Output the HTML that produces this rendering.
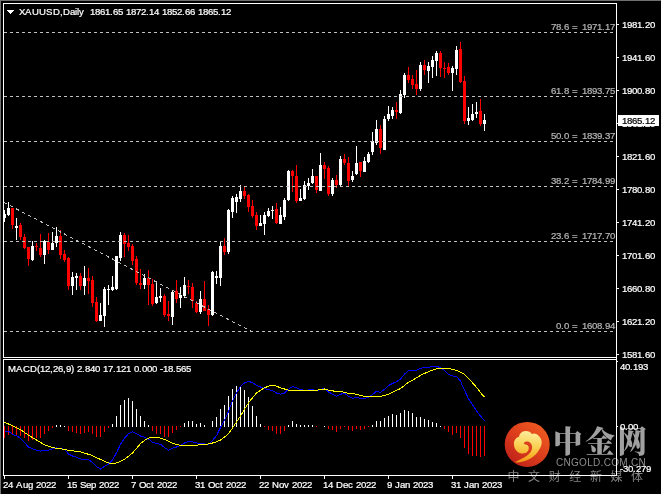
<!DOCTYPE html>
<html lang="en"><head><meta charset="utf-8"><title>XAUUSD Daily</title>
<style>
html,body{margin:0;padding:0;background:#000;}
body{width:661px;height:494px;overflow:hidden;}
svg{display:block;}
text{font-family:"Liberation Sans","Noto Sans CJK SC",sans-serif;font-size:9.6px;fill:#fff;stroke:#fff;stroke-width:0.22px;}
.fib{fill:#b4b4b4;stroke:#b4b4b4;}
.cjk{font-family:"Liberation Serif","Noto Serif CJK SC",serif;font-weight:900;}
.cjk2{font-family:"Liberation Sans","Noto Sans CJK SC",sans-serif;}
</style></head><body>
<svg width="661" height="494" viewBox="0 0 661 494">
<rect x="0" y="0" width="661" height="494" fill="#000"/>
<defs>
<linearGradient id="lg1" x1="0.85" y1="0.1" x2="0.15" y2="0.9"><stop offset="0" stop-color="#ee5a20"/><stop offset="0.5" stop-color="#dc3e1c"/><stop offset="1" stop-color="#c0221a"/></linearGradient>
<linearGradient id="lg2" x1="0.5" y1="0" x2="0.4" y2="1"><stop offset="0" stop-color="#fdee9e"/><stop offset="0.45" stop-color="#fad257"/><stop offset="0.75" stop-color="#f7b52c"/><stop offset="1" stop-color="#f39416"/></linearGradient>
</defs>
<g id="wm">
<circle cx="527.2" cy="444.4" r="22.5" fill="url(#lg1)"/>
<g transform="translate(496,414) scale(0.1215)">
<path fill="url(#lg2)" d="M155 398 C235 402 318 362 356 292 C380 262 388 215 352 182 C340 160 310 155 295 165 C280 135 225 128 200 160 C192 172 190 180 190 188 C160 195 145 225 148 250 C150 300 190 332 235 324 C258 318 272 298 270 278 C268 260 254 250 240 252 L228 240 C250 215 292 228 297 268 C300 312 262 345 215 366 C195 376 170 388 155 398 Z"/>
</g>
<text class="cjk" x="553" y="452" style="font-size:29.5px;fill:#a0a0a0;stroke:none;letter-spacing:2.8px">中金网</text>
<text x="556" y="466" style="font-size:10px;fill:#8c8c8c;stroke:none;letter-spacing:0.3px">CNGOLD.COM.CN</text>
<text class="cjk2" x="507.5" y="480.5" style="font-size:12px;fill:#858585;stroke:none;letter-spacing:8.6px">中文财经新媒体</text>
</g>
<g shape-rendering="crispEdges">
<rect x="0" y="0" width="661" height="1" fill="#707070"/>
<rect x="0" y="0" width="1" height="494" fill="#707070"/>
<g fill="#fff">
<rect x="3" y="3" width="614" height="1"/>
<rect x="3" y="3" width="1" height="355"/>
<rect x="3" y="357" width="614" height="1"/>
<rect x="3" y="359" width="614" height="1"/>
<rect x="3" y="359" width="1" height="117"/>
<rect x="3" y="475" width="614" height="1"/>
<rect x="616" y="3" width="1" height="473"/>
<rect x="617" y="24" width="2" height="1"/>
<rect x="617" y="57" width="2" height="1"/>
<rect x="617" y="90" width="2" height="1"/>
<rect x="617" y="123" width="2" height="1"/>
<rect x="617" y="156" width="2" height="1"/>
<rect x="617" y="189" width="2" height="1"/>
<rect x="617" y="222" width="2" height="1"/>
<rect x="617" y="255" width="2" height="1"/>
<rect x="617" y="288" width="2" height="1"/>
<rect x="617" y="321" width="2" height="1"/>
<rect x="617" y="354" width="2" height="1"/>
<rect x="617" y="361" width="1" height="1"/>
<rect x="617" y="426" width="1" height="1"/>
<rect x="4" y="476" width="1" height="3"/>
<rect x="68" y="476" width="1" height="3"/>
<rect x="132" y="476" width="1" height="3"/>
<rect x="196" y="476" width="1" height="3"/>
<rect x="260" y="476" width="1" height="3"/>
<rect x="324" y="476" width="1" height="3"/>
<rect x="388" y="476" width="1" height="3"/>
<rect x="452" y="476" width="1" height="3"/>
</g>
</g>
<g shape-rendering="crispEdges">
<rect x="4" y="210" width="1" height="12" fill="#ffffff"/>
<rect x="4" y="214" width="2" height="4" fill="#ffffff"/>
<rect x="8" y="202" width="1" height="14" fill="#ffffff"/>
<rect x="7" y="208" width="3" height="7" fill="#ffffff"/>
<rect x="12" y="208" width="1" height="21" fill="#ff0000"/>
<rect x="11" y="208" width="3" height="17" fill="#ff0000"/>
<rect x="16" y="218" width="1" height="22" fill="#ffffff"/>
<rect x="15" y="226" width="3" height="2" fill="#ffffff"/>
<rect x="20" y="223" width="1" height="17" fill="#ff0000"/>
<rect x="19" y="225" width="3" height="12" fill="#ff0000"/>
<rect x="24" y="234" width="1" height="15" fill="#ff0000"/>
<rect x="23" y="237" width="3" height="11" fill="#ff0000"/>
<rect x="28" y="247" width="1" height="19" fill="#ff0000"/>
<rect x="27" y="247" width="3" height="12" fill="#ff0000"/>
<rect x="32" y="241" width="1" height="20" fill="#ffffff"/>
<rect x="31" y="246" width="3" height="14" fill="#ffffff"/>
<rect x="36" y="243" width="1" height="8" fill="#ff0000"/>
<rect x="35" y="246" width="3" height="1" fill="#ff0000"/>
<rect x="40" y="234" width="1" height="23" fill="#ff0000"/>
<rect x="39" y="248" width="3" height="7" fill="#ff0000"/>
<rect x="44" y="240" width="1" height="24" fill="#ffffff"/>
<rect x="43" y="241" width="3" height="14" fill="#ffffff"/>
<rect x="48" y="233" width="1" height="21" fill="#ff0000"/>
<rect x="47" y="242" width="3" height="8" fill="#ff0000"/>
<rect x="52" y="232" width="1" height="18" fill="#ffffff"/>
<rect x="51" y="243" width="3" height="7" fill="#ffffff"/>
<rect x="56" y="227" width="1" height="20" fill="#ffffff"/>
<rect x="55" y="236" width="3" height="7" fill="#ffffff"/>
<rect x="60" y="230" width="1" height="29" fill="#ff0000"/>
<rect x="59" y="236" width="3" height="19" fill="#ff0000"/>
<rect x="64" y="250" width="1" height="12" fill="#ff0000"/>
<rect x="63" y="254" width="3" height="6" fill="#ff0000"/>
<rect x="68" y="257" width="1" height="33" fill="#ff0000"/>
<rect x="67" y="258" width="3" height="28" fill="#ff0000"/>
<rect x="72" y="272" width="1" height="23" fill="#ffffff"/>
<rect x="71" y="277" width="3" height="9" fill="#ffffff"/>
<rect x="76" y="273" width="1" height="17" fill="#ffffff"/>
<rect x="75" y="276" width="3" height="2" fill="#ffffff"/>
<rect x="80" y="273" width="1" height="17" fill="#ff0000"/>
<rect x="79" y="276" width="3" height="10" fill="#ff0000"/>
<rect x="84" y="266" width="1" height="29" fill="#ffffff"/>
<rect x="83" y="278" width="3" height="8" fill="#ffffff"/>
<rect x="88" y="268" width="1" height="26" fill="#ff0000"/>
<rect x="87" y="278" width="3" height="3" fill="#ff0000"/>
<rect x="92" y="276" width="1" height="31" fill="#ff0000"/>
<rect x="91" y="280" width="3" height="23" fill="#ff0000"/>
<rect x="96" y="297" width="1" height="25" fill="#ff0000"/>
<rect x="95" y="302" width="3" height="19" fill="#ff0000"/>
<rect x="100" y="303" width="1" height="18" fill="#ffffff"/>
<rect x="99" y="315" width="3" height="6" fill="#ffffff"/>
<rect x="104" y="287" width="1" height="40" fill="#ffffff"/>
<rect x="103" y="289" width="3" height="27" fill="#ffffff"/>
<rect x="108" y="285" width="1" height="20" fill="#ffffff"/>
<rect x="107" y="289" width="3" height="1" fill="#ffffff"/>
<rect x="112" y="276" width="1" height="15" fill="#ffffff"/>
<rect x="111" y="287" width="3" height="3" fill="#ffffff"/>
<rect x="116" y="256" width="1" height="34" fill="#ffffff"/>
<rect x="115" y="256" width="3" height="33" fill="#ffffff"/>
<rect x="120" y="232" width="1" height="29" fill="#ffffff"/>
<rect x="119" y="235" width="3" height="23" fill="#ffffff"/>
<rect x="124" y="233" width="1" height="24" fill="#ff0000"/>
<rect x="123" y="235" width="3" height="9" fill="#ff0000"/>
<rect x="128" y="235" width="1" height="16" fill="#ff0000"/>
<rect x="127" y="243" width="3" height="4" fill="#ff0000"/>
<rect x="132" y="244" width="1" height="21" fill="#ff0000"/>
<rect x="131" y="246" width="3" height="15" fill="#ff0000"/>
<rect x="136" y="256" width="1" height="29" fill="#ff0000"/>
<rect x="135" y="259" width="3" height="24" fill="#ff0000"/>
<rect x="140" y="269" width="1" height="20" fill="#ff0000"/>
<rect x="139" y="283" width="3" height="2" fill="#ff0000"/>
<rect x="144" y="274" width="1" height="15" fill="#ffffff"/>
<rect x="143" y="278" width="3" height="7" fill="#ffffff"/>
<rect x="148" y="270" width="1" height="35" fill="#ff0000"/>
<rect x="147" y="278" width="3" height="7" fill="#ff0000"/>
<rect x="152" y="279" width="1" height="27" fill="#ff0000"/>
<rect x="151" y="284" width="3" height="20" fill="#ff0000"/>
<rect x="156" y="281" width="1" height="23" fill="#ffffff"/>
<rect x="155" y="297" width="3" height="6" fill="#ffffff"/>
<rect x="160" y="288" width="1" height="14" fill="#ffffff"/>
<rect x="159" y="296" width="3" height="2" fill="#ffffff"/>
<rect x="164" y="294" width="1" height="23" fill="#ff0000"/>
<rect x="163" y="296" width="3" height="19" fill="#ff0000"/>
<rect x="168" y="301" width="1" height="20" fill="#ff0000"/>
<rect x="167" y="314" width="3" height="2" fill="#ff0000"/>
<rect x="172" y="291" width="1" height="34" fill="#ffffff"/>
<rect x="171" y="292" width="3" height="25" fill="#ffffff"/>
<rect x="176" y="280" width="1" height="23" fill="#ff0000"/>
<rect x="175" y="291" width="3" height="8" fill="#ff0000"/>
<rect x="180" y="287" width="1" height="21" fill="#ffffff"/>
<rect x="179" y="295" width="3" height="3" fill="#ffffff"/>
<rect x="184" y="277" width="1" height="21" fill="#ffffff"/>
<rect x="183" y="285" width="3" height="11" fill="#ffffff"/>
<rect x="188" y="280" width="1" height="14" fill="#ff0000"/>
<rect x="187" y="286" width="3" height="1" fill="#ff0000"/>
<rect x="192" y="283" width="1" height="25" fill="#ff0000"/>
<rect x="191" y="287" width="3" height="14" fill="#ff0000"/>
<rect x="196" y="301" width="1" height="12" fill="#ff0000"/>
<rect x="195" y="303" width="3" height="9" fill="#ff0000"/>
<rect x="200" y="291" width="1" height="23" fill="#ffffff"/>
<rect x="199" y="299" width="3" height="13" fill="#ffffff"/>
<rect x="204" y="281" width="1" height="30" fill="#ff0000"/>
<rect x="203" y="299" width="3" height="12" fill="#ff0000"/>
<rect x="208" y="305" width="1" height="21" fill="#ff0000"/>
<rect x="207" y="309" width="3" height="6" fill="#ff0000"/>
<rect x="212" y="271" width="1" height="45" fill="#ffffff"/>
<rect x="211" y="272" width="3" height="43" fill="#ffffff"/>
<rect x="216" y="271" width="1" height="13" fill="#ffffff"/>
<rect x="215" y="276" width="3" height="2" fill="#ffffff"/>
<rect x="220" y="241" width="1" height="45" fill="#ffffff"/>
<rect x="219" y="246" width="3" height="32" fill="#ffffff"/>
<rect x="224" y="238" width="1" height="17" fill="#ff0000"/>
<rect x="223" y="246" width="3" height="6" fill="#ff0000"/>
<rect x="228" y="209" width="1" height="45" fill="#ffffff"/>
<rect x="227" y="210" width="3" height="42" fill="#ffffff"/>
<rect x="232" y="196" width="1" height="22" fill="#ffffff"/>
<rect x="231" y="198" width="3" height="14" fill="#ffffff"/>
<rect x="236" y="194" width="1" height="19" fill="#ffffff"/>
<rect x="235" y="197" width="3" height="5" fill="#ffffff"/>
<rect x="240" y="185" width="1" height="17" fill="#ffffff"/>
<rect x="239" y="191" width="3" height="8" fill="#ffffff"/>
<rect x="244" y="187" width="1" height="12" fill="#ff0000"/>
<rect x="243" y="191" width="3" height="5" fill="#ff0000"/>
<rect x="248" y="194" width="1" height="18" fill="#ff0000"/>
<rect x="247" y="195" width="3" height="12" fill="#ff0000"/>
<rect x="252" y="200" width="1" height="18" fill="#ff0000"/>
<rect x="251" y="206" width="3" height="10" fill="#ff0000"/>
<rect x="256" y="212" width="1" height="18" fill="#ff0000"/>
<rect x="255" y="215" width="3" height="11" fill="#ff0000"/>
<rect x="260" y="215" width="1" height="11" fill="#ffffff"/>
<rect x="259" y="223" width="3" height="3" fill="#ffffff"/>
<rect x="264" y="212" width="1" height="23" fill="#ffffff"/>
<rect x="263" y="215" width="3" height="9" fill="#ffffff"/>
<rect x="268" y="208" width="1" height="9" fill="#ffffff"/>
<rect x="267" y="211" width="3" height="5" fill="#ffffff"/>
<rect x="272" y="206" width="1" height="13" fill="#ffffff"/>
<rect x="271" y="210" width="3" height="1" fill="#ffffff"/>
<rect x="276" y="203" width="1" height="21" fill="#ff0000"/>
<rect x="275" y="209" width="3" height="14" fill="#ff0000"/>
<rect x="280" y="207" width="1" height="17" fill="#ffffff"/>
<rect x="279" y="215" width="3" height="9" fill="#ffffff"/>
<rect x="284" y="198" width="1" height="22" fill="#ffffff"/>
<rect x="283" y="200" width="3" height="17" fill="#ffffff"/>
<rect x="288" y="170" width="1" height="31" fill="#ffffff"/>
<rect x="287" y="171" width="3" height="29" fill="#ffffff"/>
<rect x="292" y="170" width="1" height="22" fill="#ff0000"/>
<rect x="291" y="171" width="3" height="5" fill="#ff0000"/>
<rect x="296" y="165" width="1" height="38" fill="#ff0000"/>
<rect x="295" y="176" width="3" height="25" fill="#ff0000"/>
<rect x="300" y="189" width="1" height="12" fill="#ffffff"/>
<rect x="299" y="198" width="3" height="3" fill="#ffffff"/>
<rect x="304" y="181" width="1" height="19" fill="#ffffff"/>
<rect x="303" y="185" width="3" height="14" fill="#ffffff"/>
<rect x="308" y="178" width="1" height="12" fill="#ffffff"/>
<rect x="307" y="183" width="3" height="3" fill="#ffffff"/>
<rect x="312" y="169" width="1" height="15" fill="#ffffff"/>
<rect x="311" y="176" width="3" height="7" fill="#ffffff"/>
<rect x="316" y="176" width="1" height="17" fill="#ff0000"/>
<rect x="315" y="176" width="3" height="14" fill="#ff0000"/>
<rect x="320" y="153" width="1" height="38" fill="#ffffff"/>
<rect x="319" y="165" width="3" height="26" fill="#ffffff"/>
<rect x="324" y="162" width="1" height="17" fill="#ff0000"/>
<rect x="323" y="165" width="3" height="4" fill="#ff0000"/>
<rect x="328" y="166" width="1" height="30" fill="#ff0000"/>
<rect x="327" y="168" width="3" height="26" fill="#ff0000"/>
<rect x="332" y="178" width="1" height="18" fill="#ffffff"/>
<rect x="331" y="180" width="3" height="14" fill="#ffffff"/>
<rect x="336" y="175" width="1" height="13" fill="#ff0000"/>
<rect x="335" y="180" width="3" height="5" fill="#ff0000"/>
<rect x="340" y="156" width="1" height="31" fill="#ffffff"/>
<rect x="339" y="159" width="3" height="26" fill="#ffffff"/>
<rect x="344" y="154" width="1" height="11" fill="#ff0000"/>
<rect x="343" y="159" width="3" height="4" fill="#ff0000"/>
<rect x="348" y="157" width="1" height="29" fill="#ff0000"/>
<rect x="347" y="163" width="3" height="18" fill="#ff0000"/>
<rect x="352" y="171" width="1" height="11" fill="#ffffff"/>
<rect x="351" y="176" width="3" height="4" fill="#ffffff"/>
<rect x="356" y="146" width="1" height="29" fill="#ffffff"/>
<rect x="355" y="163" width="3" height="11" fill="#ffffff"/>
<rect x="360" y="162" width="1" height="15" fill="#ff0000"/>
<rect x="359" y="162" width="3" height="9" fill="#ff0000"/>
<rect x="364" y="157" width="1" height="15" fill="#ffffff"/>
<rect x="363" y="161" width="3" height="11" fill="#ffffff"/>
<rect x="368" y="152" width="1" height="11" fill="#ffffff"/>
<rect x="367" y="154" width="3" height="8" fill="#ffffff"/>
<rect x="372" y="132" width="1" height="23" fill="#ffffff"/>
<rect x="371" y="141" width="3" height="11" fill="#ffffff"/>
<rect x="376" y="120" width="1" height="25" fill="#ffffff"/>
<rect x="375" y="129" width="3" height="14" fill="#ffffff"/>
<rect x="380" y="125" width="1" height="29" fill="#ff0000"/>
<rect x="379" y="129" width="3" height="19" fill="#ff0000"/>
<rect x="384" y="116" width="1" height="34" fill="#ffffff"/>
<rect x="383" y="119" width="3" height="31" fill="#ffffff"/>
<rect x="388" y="106" width="1" height="15" fill="#ffffff"/>
<rect x="387" y="114" width="3" height="5" fill="#ffffff"/>
<rect x="392" y="107" width="1" height="12" fill="#ffffff"/>
<rect x="391" y="110" width="3" height="6" fill="#ffffff"/>
<rect x="396" y="102" width="1" height="17" fill="#ff0000"/>
<rect x="395" y="110" width="3" height="2" fill="#ff0000"/>
<rect x="400" y="90" width="1" height="24" fill="#ffffff"/>
<rect x="399" y="94" width="3" height="19" fill="#ffffff"/>
<rect x="404" y="73" width="1" height="25" fill="#ffffff"/>
<rect x="403" y="75" width="3" height="20" fill="#ffffff"/>
<rect x="408" y="67" width="1" height="16" fill="#ff0000"/>
<rect x="407" y="75" width="3" height="5" fill="#ff0000"/>
<rect x="412" y="75" width="1" height="14" fill="#ff0000"/>
<rect x="411" y="79" width="3" height="6" fill="#ff0000"/>
<rect x="416" y="70" width="1" height="25" fill="#ff0000"/>
<rect x="415" y="84" width="3" height="5" fill="#ff0000"/>
<rect x="420" y="62" width="1" height="29" fill="#ffffff"/>
<rect x="419" y="65" width="3" height="24" fill="#ffffff"/>
<rect x="424" y="60" width="1" height="15" fill="#ff0000"/>
<rect x="423" y="65" width="3" height="5" fill="#ff0000"/>
<rect x="428" y="62" width="1" height="21" fill="#ffffff"/>
<rect x="427" y="66" width="3" height="5" fill="#ffffff"/>
<rect x="432" y="56" width="1" height="22" fill="#ffffff"/>
<rect x="431" y="60" width="3" height="7" fill="#ffffff"/>
<rect x="436" y="51" width="1" height="25" fill="#ffffff"/>
<rect x="435" y="53" width="3" height="8" fill="#ffffff"/>
<rect x="440" y="51" width="1" height="26" fill="#ff0000"/>
<rect x="439" y="53" width="3" height="15" fill="#ff0000"/>
<rect x="444" y="62" width="1" height="16" fill="#ff0000"/>
<rect x="443" y="68" width="3" height="1" fill="#ff0000"/>
<rect x="448" y="63" width="1" height="12" fill="#ff0000"/>
<rect x="447" y="67" width="3" height="6" fill="#ff0000"/>
<rect x="452" y="66" width="1" height="25" fill="#ffffff"/>
<rect x="451" y="68" width="3" height="5" fill="#ffffff"/>
<rect x="456" y="46" width="1" height="29" fill="#ffffff"/>
<rect x="455" y="50" width="3" height="19" fill="#ffffff"/>
<rect x="460" y="42" width="1" height="41" fill="#ff0000"/>
<rect x="459" y="49" width="3" height="33" fill="#ff0000"/>
<rect x="464" y="76" width="1" height="48" fill="#ff0000"/>
<rect x="463" y="81" width="3" height="40" fill="#ff0000"/>
<rect x="468" y="107" width="1" height="18" fill="#ffffff"/>
<rect x="467" y="118" width="3" height="3" fill="#ffffff"/>
<rect x="472" y="104" width="1" height="17" fill="#ffffff"/>
<rect x="471" y="114" width="3" height="6" fill="#ffffff"/>
<rect x="476" y="102" width="1" height="16" fill="#ffffff"/>
<rect x="475" y="112" width="3" height="2" fill="#ffffff"/>
<rect x="480" y="99" width="1" height="27" fill="#ff0000"/>
<rect x="479" y="111" width="3" height="13" fill="#ff0000"/>
<rect x="484" y="114" width="1" height="17" fill="#ffffff"/>
<rect x="483" y="120" width="3" height="4" fill="#ffffff"/>
<rect x="56" y="425" width="1" height="2" fill="#fff"/>
<rect x="60" y="425" width="1" height="2" fill="#fff"/>
<rect x="64" y="426" width="1" height="1" fill="#fff"/>
<rect x="112" y="424" width="1" height="3" fill="#fff"/>
<rect x="116" y="416" width="1" height="11" fill="#fff"/>
<rect x="120" y="405" width="1" height="22" fill="#fff"/>
<rect x="124" y="400" width="1" height="27" fill="#fff"/>
<rect x="128" y="398" width="1" height="29" fill="#fff"/>
<rect x="132" y="401" width="1" height="26" fill="#fff"/>
<rect x="136" y="409" width="1" height="18" fill="#fff"/>
<rect x="140" y="416" width="1" height="11" fill="#fff"/>
<rect x="144" y="421" width="1" height="6" fill="#fff"/>
<rect x="148" y="425" width="1" height="2" fill="#fff"/>
<rect x="184" y="423" width="1" height="4" fill="#fff"/>
<rect x="188" y="421" width="1" height="6" fill="#fff"/>
<rect x="192" y="421" width="1" height="6" fill="#fff"/>
<rect x="196" y="424" width="1" height="3" fill="#fff"/>
<rect x="200" y="423" width="1" height="4" fill="#fff"/>
<rect x="204" y="425" width="1" height="2" fill="#fff"/>
<rect x="212" y="421" width="1" height="6" fill="#fff"/>
<rect x="216" y="417" width="1" height="10" fill="#fff"/>
<rect x="220" y="409" width="1" height="18" fill="#fff"/>
<rect x="224" y="405" width="1" height="22" fill="#fff"/>
<rect x="228" y="396" width="1" height="31" fill="#fff"/>
<rect x="232" y="389" width="1" height="38" fill="#fff"/>
<rect x="236" y="386" width="1" height="41" fill="#fff"/>
<rect x="240" y="386" width="1" height="41" fill="#fff"/>
<rect x="244" y="390" width="1" height="37" fill="#fff"/>
<rect x="248" y="397" width="1" height="30" fill="#fff"/>
<rect x="252" y="406" width="1" height="21" fill="#fff"/>
<rect x="256" y="416" width="1" height="11" fill="#fff"/>
<rect x="260" y="424" width="1" height="3" fill="#fff"/>
<rect x="288" y="425" width="1" height="2" fill="#fff"/>
<rect x="292" y="421" width="1" height="6" fill="#fff"/>
<rect x="296" y="424" width="1" height="3" fill="#fff"/>
<rect x="300" y="425" width="1" height="2" fill="#fff"/>
<rect x="304" y="425" width="1" height="2" fill="#fff"/>
<rect x="308" y="425" width="1" height="2" fill="#fff"/>
<rect x="312" y="425" width="1" height="2" fill="#fff"/>
<rect x="324" y="426" width="1" height="1" fill="#fff"/>
<rect x="372" y="425" width="1" height="2" fill="#fff"/>
<rect x="376" y="421" width="1" height="6" fill="#fff"/>
<rect x="380" y="421" width="1" height="6" fill="#fff"/>
<rect x="384" y="418" width="1" height="9" fill="#fff"/>
<rect x="388" y="416" width="1" height="11" fill="#fff"/>
<rect x="392" y="414" width="1" height="13" fill="#fff"/>
<rect x="396" y="415" width="1" height="12" fill="#fff"/>
<rect x="400" y="413" width="1" height="14" fill="#fff"/>
<rect x="404" y="410" width="1" height="17" fill="#fff"/>
<rect x="408" y="411" width="1" height="16" fill="#fff"/>
<rect x="412" y="413" width="1" height="14" fill="#fff"/>
<rect x="416" y="417" width="1" height="10" fill="#fff"/>
<rect x="420" y="417" width="1" height="10" fill="#fff"/>
<rect x="424" y="419" width="1" height="8" fill="#fff"/>
<rect x="428" y="420" width="1" height="7" fill="#fff"/>
<rect x="432" y="422" width="1" height="5" fill="#fff"/>
<rect x="436" y="423" width="1" height="4" fill="#fff"/>
<rect x="440" y="426" width="1" height="1" fill="#fff"/>
<rect x="4" y="426" width="1" height="12" fill="#ff0000"/>
<rect x="8" y="426" width="1" height="9" fill="#ff0000"/>
<rect x="12" y="426" width="1" height="8" fill="#ff0000"/>
<rect x="16" y="426" width="1" height="9" fill="#ff0000"/>
<rect x="20" y="426" width="1" height="10" fill="#ff0000"/>
<rect x="24" y="426" width="1" height="12" fill="#ff0000"/>
<rect x="28" y="426" width="1" height="15" fill="#ff0000"/>
<rect x="32" y="426" width="1" height="14" fill="#ff0000"/>
<rect x="36" y="426" width="1" height="12" fill="#ff0000"/>
<rect x="40" y="426" width="1" height="12" fill="#ff0000"/>
<rect x="44" y="426" width="1" height="8" fill="#ff0000"/>
<rect x="48" y="426" width="1" height="5" fill="#ff0000"/>
<rect x="52" y="426" width="1" height="2" fill="#ff0000"/>
<rect x="68" y="426" width="1" height="5" fill="#ff0000"/>
<rect x="72" y="426" width="1" height="6" fill="#ff0000"/>
<rect x="76" y="426" width="1" height="7" fill="#ff0000"/>
<rect x="80" y="426" width="1" height="8" fill="#ff0000"/>
<rect x="84" y="426" width="1" height="7" fill="#ff0000"/>
<rect x="88" y="426" width="1" height="6" fill="#ff0000"/>
<rect x="92" y="426" width="1" height="8" fill="#ff0000"/>
<rect x="96" y="426" width="1" height="11" fill="#ff0000"/>
<rect x="100" y="426" width="1" height="11" fill="#ff0000"/>
<rect x="104" y="426" width="1" height="6" fill="#ff0000"/>
<rect x="108" y="426" width="1" height="2" fill="#ff0000"/>
<rect x="152" y="426" width="1" height="5" fill="#ff0000"/>
<rect x="156" y="426" width="1" height="8" fill="#ff0000"/>
<rect x="160" y="426" width="1" height="8" fill="#ff0000"/>
<rect x="164" y="426" width="1" height="11" fill="#ff0000"/>
<rect x="168" y="426" width="1" height="11" fill="#ff0000"/>
<rect x="172" y="426" width="1" height="7" fill="#ff0000"/>
<rect x="176" y="426" width="1" height="4" fill="#ff0000"/>
<rect x="180" y="426" width="1" height="1" fill="#ff0000"/>
<rect x="264" y="426" width="1" height="1" fill="#ff0000"/>
<rect x="268" y="426" width="1" height="4" fill="#ff0000"/>
<rect x="272" y="426" width="1" height="5" fill="#ff0000"/>
<rect x="276" y="426" width="1" height="8" fill="#ff0000"/>
<rect x="280" y="426" width="1" height="8" fill="#ff0000"/>
<rect x="284" y="426" width="1" height="5" fill="#ff0000"/>
<rect x="316" y="426" width="1" height="1" fill="#ff0000"/>
<rect x="328" y="426" width="1" height="3" fill="#ff0000"/>
<rect x="332" y="426" width="1" height="4" fill="#ff0000"/>
<rect x="336" y="426" width="1" height="6" fill="#ff0000"/>
<rect x="340" y="426" width="1" height="3" fill="#ff0000"/>
<rect x="344" y="426" width="1" height="1" fill="#ff0000"/>
<rect x="348" y="426" width="1" height="4" fill="#ff0000"/>
<rect x="352" y="426" width="1" height="5" fill="#ff0000"/>
<rect x="356" y="426" width="1" height="3" fill="#ff0000"/>
<rect x="360" y="426" width="1" height="4" fill="#ff0000"/>
<rect x="364" y="426" width="1" height="3" fill="#ff0000"/>
<rect x="368" y="426" width="1" height="1" fill="#ff0000"/>
<rect x="444" y="426" width="1" height="3" fill="#ff0000"/>
<rect x="448" y="426" width="1" height="6" fill="#ff0000"/>
<rect x="452" y="426" width="1" height="9" fill="#ff0000"/>
<rect x="456" y="426" width="1" height="7" fill="#ff0000"/>
<rect x="460" y="426" width="1" height="12" fill="#ff0000"/>
<rect x="464" y="426" width="1" height="22" fill="#ff0000"/>
<rect x="468" y="426" width="1" height="28" fill="#ff0000"/>
<rect x="472" y="426" width="1" height="30" fill="#ff0000"/>
<rect x="476" y="426" width="1" height="30" fill="#ff0000"/>
<rect x="480" y="426" width="1" height="31" fill="#ff0000"/>
<rect x="484" y="426" width="1" height="30" fill="#ff0000"/>
</g>
<g stroke="#c0c0c0" stroke-width="1" stroke-dasharray="3 3" fill="none" shape-rendering="crispEdges">
<line x1="4" y1="32.5" x2="614" y2="32.5"/>
<line x1="4" y1="96.5" x2="614" y2="96.5"/>
<line x1="4" y1="141.5" x2="614" y2="141.5"/>
<line x1="4" y1="186.5" x2="614" y2="186.5"/>
<line x1="4" y1="241.5" x2="614" y2="241.5"/>
<line x1="4" y1="331.5" x2="614" y2="331.5"/>
<line x1="4" y1="202.5" x2="251.5" y2="331.5" stroke-dasharray="3.385 3.385"/>
</g>
<polyline points="4.5,431.3 8.5,431.3 12.5,434.3 16.5,435.8 20.5,438.2 24.5,442.5 28.5,447.1 32.5,448.8 36.5,450.1 40.5,451.2 44.5,450.1 48.5,450.1 52.5,448.8 56.5,447.9 60.5,448.8 64.5,449.2 68.5,454 72.5,456 76.5,457.3 80.5,459 84.5,459.3 88.5,459.5 92.5,462.5 96.5,466.6 100.5,469 104.5,466.3 108.5,464 112.5,460.2 116.5,452.7 120.5,444.3 124.5,438.2 128.5,433.7 132.5,431.9 136.5,433.7 140.5,436 144.5,437.2 148.5,439 152.5,442.3 156.5,443.6 160.5,444.2 164.5,447.5 168.5,450.2 172.5,448.3 176.5,447 180.5,445.6 184.5,443 188.5,441.3 192.5,441.8 196.5,443 200.5,443.3 204.5,444 208.5,444.8 212.5,440.3 216.5,435.7 220.5,427.4 224.5,420.5 228.5,411.4 232.5,400.8 236.5,393.2 240.5,386.4 244.5,382.9 248.5,381.4 252.5,382.6 256.5,385.2 260.5,387 264.5,388.5 268.5,389.6 272.5,390.8 276.5,393 280.5,394.3 284.5,393 288.5,389.3 292.5,386.5 296.5,387.8 300.5,389.7 304.5,390.3 308.5,390 312.5,389.3 316.5,390.8 320.5,389.3 324.5,388.5 328.5,392 332.5,394.1 336.5,396.4 340.5,394.2 344.5,393.4 348.5,396.2 352.5,398.4 356.5,397.4 360.5,398.4 364.5,398.4 368.5,397.4 372.5,394.6 376.5,391.3 380.5,392.3 384.5,389.3 388.5,385.5 392.5,383.5 396.5,381.7 400.5,379.1 404.5,374.1 408.5,370.8 412.5,370.3 416.5,370.3 420.5,368.4 424.5,367.6 428.5,367.2 432.5,366.5 436.5,366.5 440.5,367.5 444.5,370.6 448.5,374.4 452.5,375.9 456.5,376.4 460.5,381.2 464.5,390.3 468.5,398.7 472.5,404.8 476.5,410.8 480.5,416.1 484.5,420.7" fill="none" stroke="#0000ff" stroke-width="1" shape-rendering="crispEdges"/>
<polyline points="4.5,422.2 12.5,425.8 20.5,429.7 28.5,435.2 36.5,440 44.5,444.7 52.5,447.6 60.5,448.8 68.5,450.3 76.5,451.4 80.5,451.9 90.5,454.9 100.5,459.5 108.5,463 112.5,463.3 116.5,463 124.5,459.5 132.5,453 140.5,443.6 144.5,440.5 148.5,438.2 152.5,437.2 156.5,437.2 160.5,438.2 164.5,439.4 168.5,441.2 172.5,443.3 176.5,444.5 180.5,445.3 184.5,445.7 188.5,445.7 192.5,445.4 196.5,445.1 200.5,444.8 204.5,444.5 208.5,444 212.5,443 216.5,441.8 220.5,440 224.5,437.2 228.5,433.4 232.5,428.1 236.5,422 240.5,416 244.5,409.1 248.5,403 252.5,397.7 256.5,393 260.5,390.2 264.5,387.8 268.5,386.2 272.5,385.2 276.5,386.2 280.5,387.8 284.5,389 288.5,390.2 292.5,390.3 316.5,390.3 320.5,389.3 324.5,389 328.5,390.3 332.5,390.8 336.5,391.6 340.5,391.6 344.5,392.4 348.5,393.4 352.5,393.6 356.5,394.3 360.5,395.4 364.5,396.4 368.5,396.6 372.5,396.6 376.5,396.6 380.5,396.4 384.5,395.4 388.5,394.3 392.5,392.3 396.5,390.4 400.5,388.6 404.5,385.5 408.5,382.2 412.5,380.2 416.5,377.9 420.5,375.4 424.5,373.4 428.5,371.8 432.5,370.1 436.5,368.8 440.5,368.2 444.5,368.3 448.5,368.3 452.5,369.4 456.5,370.3 460.5,372.1 464.5,374.4 468.5,378.2 472.5,382.8 476.5,387.3 480.5,392.6 484.5,397.2" fill="none" stroke="#ffff00" stroke-width="1" shape-rendering="crispEdges"/>
<text x="622 627 632 637 642 645 650" y="127" xml:space="preserve">1861.20</text>
<rect x="618" y="115" width="41" height="11" fill="#fff" shape-rendering="crispEdges"/>
<path d="M7 10h7v1h-1v1h-1v1h-1v1h-1v-1h-1v-1h-1v-1h-1z" fill="#fff" shape-rendering="crispEdges"/>
<text x="19 25 32 39 46 53 60 63 70 75 77 79 84 87 90 95 100 105 110 113 118 123 126 131 136 141 146 149 154 159 162 167 172 177 182 185 190 195 198 203 208 213 218 221 226" y="15" xml:space="preserve">XAUUSD,Daily  1861.65 1872.14 1852.66 1865.12</text>
<text x="8 16 23 30 37 40 45 50 53 58 63 66 71 74 77 82 85 90 95 100 103 108 113 116 121 126 131 134 139 142 147 152 157 160 163 168 173 176 181 186" y="372" xml:space="preserve">MACD(12,26,9) 2.840 17.121 0.000 -18.565</text>
<text x="622 627 632 637 642 645 650" y="28" xml:space="preserve">1981.20</text>
<text x="622 627 632 637 642 645 650" y="61" xml:space="preserve">1941.60</text>
<text x="622 627 632 637 642 645 650" y="94" xml:space="preserve">1900.80</text>
<text x="622 627 632 637 642 645 650" y="160" xml:space="preserve">1821.60</text>
<text x="622 627 632 637 642 645 650" y="193" xml:space="preserve">1780.80</text>
<text x="622 627 632 637 642 645 650" y="226" xml:space="preserve">1741.20</text>
<text x="622 627 632 637 642 645 650" y="259" xml:space="preserve">1701.60</text>
<text x="622 627 632 637 642 645 650" y="292" xml:space="preserve">1660.80</text>
<text x="622 627 632 637 642 645 650" y="325" xml:space="preserve">1621.20</text>
<text x="622 627 632 637 642 645 650" y="358" xml:space="preserve">1581.60</text>
<text x="622 627 632 637 642 645 650" y="124" style="fill:#000;stroke:#000" xml:space="preserve">1865.12</text>
<text x="620 625 630 633 638 643" y="370" xml:space="preserve">40.193</text>
<text x="620 625 628 633" y="430" xml:space="preserve">0.00</text>
<text x="620 623 628 633 636 641 646" y="472" xml:space="preserve">-30.279</text>
<text x="551 556 561 564 569 572 578 582 587 592 597 602 605 610" y="30" class="fib" xml:space="preserve">78.6 = 1971.17</text>
<text x="551 556 561 564 569 572 578 582 587 592 597 602 605 610" y="94" class="fib" xml:space="preserve">61.8 = 1893.75</text>
<text x="551 556 561 564 569 572 578 582 587 592 597 602 605 610" y="139" class="fib" xml:space="preserve">50.0 = 1839.37</text>
<text x="551 556 561 564 569 572 578 582 587 592 597 602 605 610" y="184" class="fib" xml:space="preserve">38.2 = 1784.99</text>
<text x="551 556 561 564 569 572 578 582 587 592 597 602 605 610" y="239" class="fib" xml:space="preserve">23.6 = 1717.70</text>
<text x="556 561 564 569 572 578 582 587 592 597 602 605 610" y="329" class="fib" xml:space="preserve">0.0 = 1608.94</text>
<text x="3 8 13 16 23 28 33 36 41 46 51" y="488" xml:space="preserve">24 Aug 2022</text>
<text x="67 72 77 80 86 91 96 99 104 109 114" y="488" xml:space="preserve">15 Sep 2022</text>
<text x="131 136 139 146 151 154 157 162 167 172" y="488" xml:space="preserve">7 Oct 2022</text>
<text x="195 200 205 208 215 220 223 226 231 236 241" y="488" xml:space="preserve">31 Oct 2022</text>
<text x="259 264 269 272 279 284 289 292 297 302 307" y="488" xml:space="preserve">22 Nov 2022</text>
<text x="323 328 333 336 343 348 353 356 361 366 371" y="488" xml:space="preserve">14 Dec 2022</text>
<text x="387 392 395 400 405 410 413 418 423 428" y="488" xml:space="preserve">9 Jan 2023</text>
<text x="451 456 461 464 469 474 479 482 487 492 497" y="488" xml:space="preserve">31 Jan 2023</text>
</svg>
</body></html>
